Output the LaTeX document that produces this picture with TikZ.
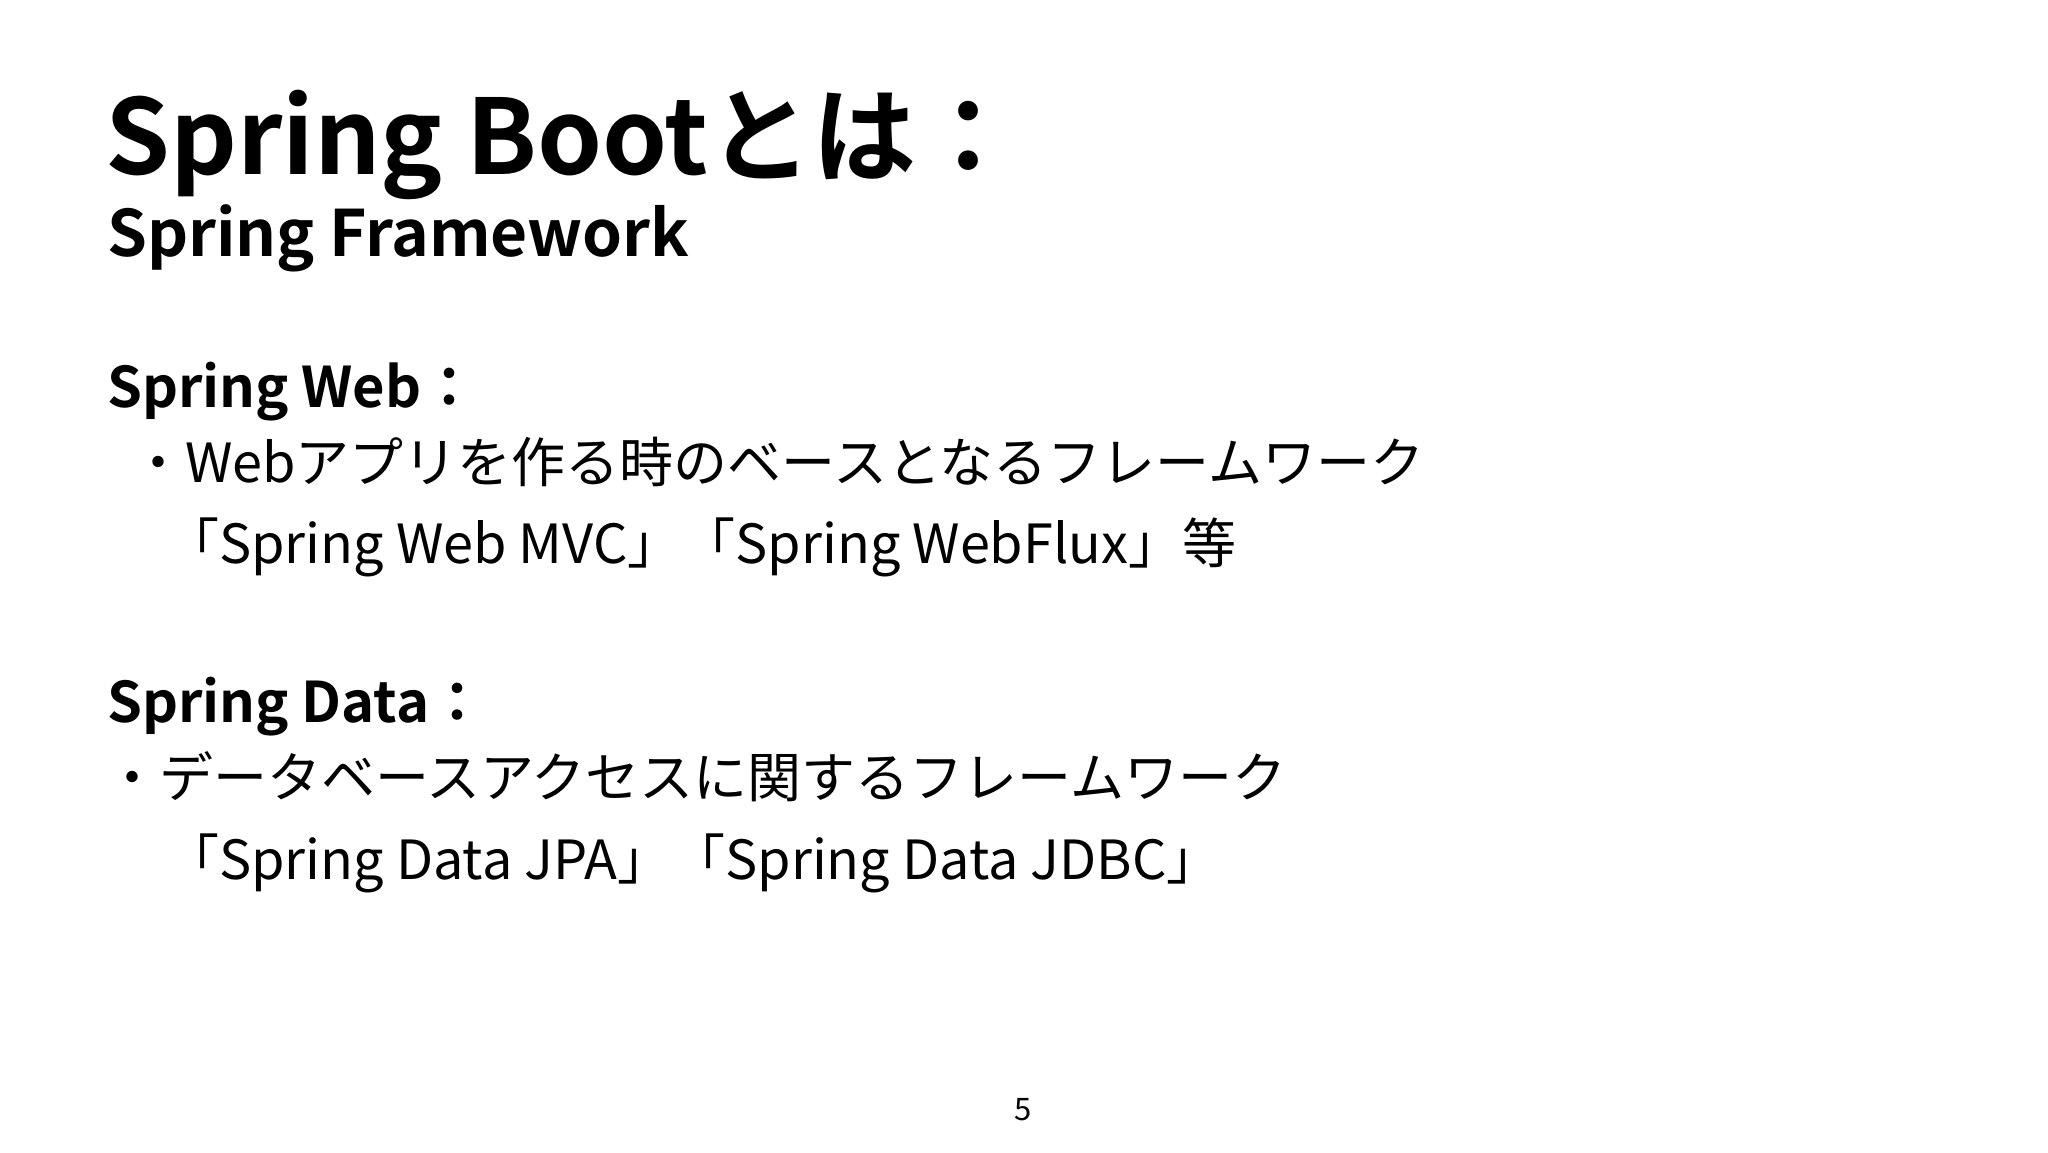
\documentclass[tikz,border=0pt]{standalone}
\usepackage{fontspec}
\setmainfont{Noto Sans CJK JP}[BoldFont={Noto Sans CJK JP Bold}]
\begin{document}
\begin{tikzpicture}[x=1pt,y=-1pt,
  txt/.style={anchor=base west,inner sep=0pt,font=\fontsize{54}{60}\selectfont},
  head/.style={anchor=base west,inner sep=0pt,font=\bfseries\fontsize{56}{60}\selectfont}]
\useasboundingbox[fill=white] (0,0) rectangle (2048,1152);
\node[anchor=base west,inner sep=0pt,font=\bfseries\fontsize{104}{110}\selectfont] (t) at (105,174) {Spring Bootとは：};
\node[anchor=base west,inner sep=0pt,font=\bfseries\fontsize{64}{70}\selectfont] (st) at (107,256) {Spring Framework};
\node[head] (h1) at (107,407) {Spring Web：};
\node[txt] (a1) at (131,482) {・Webアプリを作る時のベースとなるフレームワーク};
\node[txt] (a2) at (165,563) {「Spring Web MVC」「Spring WebFlux」等};
\node[head] (h2) at (107,722) {Spring Data：};
\node[txt] (b1) at (105,797) {・データベースアクセスに関するフレームワーク};
\node[txt] (b2) at (165,879) {「Spring Data JPA」「Spring Data JDBC」};
\node[anchor=base,inner sep=0pt,font=\fontsize{31}{34}\selectfont] (p) at (1023,1120) {5};
\end{tikzpicture}
\end{document}
